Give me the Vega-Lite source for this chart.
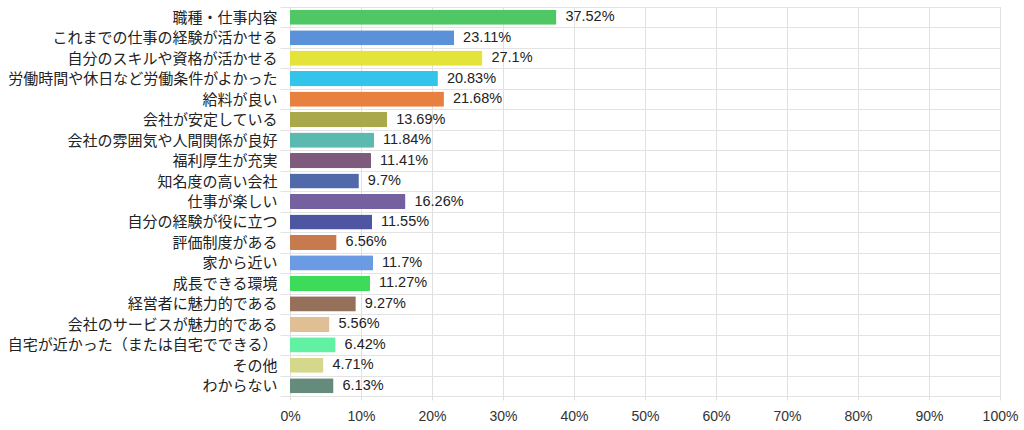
{
  "$schema": "https://vega.github.io/schema/vega-lite/v6.json",
  "width": 710,
  "height": 389,
  "autosize": {"type": "none"},
  "padding": {"left": 290, "top": 7, "right": 24, "bottom": 34},
  "background": "white",
  "config": {
    "font": "Liberation Sans, Noto Sans CJK JP",
    "view": {"stroke": "#d6d6d6", "strokeWidth": 1}
  },
  "data": {
    "values": [
      {"item": "職種・仕事内容", "pct": 37.52, "color": "#4fc764"},
      {"item": "これまでの仕事の経験が活かせる", "pct": 23.11, "color": "#5b91d9"},
      {"item": "自分のスキルや資格が活かせる", "pct": 27.1, "color": "#e3e33a"},
      {"item": "労働時間や休日など労働条件がよかった", "pct": 20.83, "color": "#33c4ec"},
      {"item": "給料が良い", "pct": 21.68, "color": "#e8803f"},
      {"item": "会社が安定している", "pct": 13.69, "color": "#a9a94b"},
      {"item": "会社の雰囲気や人間関係が良好", "pct": 11.84, "color": "#5bbab0"},
      {"item": "福利厚生が充実", "pct": 11.41, "color": "#7e5b7c"},
      {"item": "知名度の高い会社", "pct": 9.7, "color": "#5069aa"},
      {"item": "仕事が楽しい", "pct": 16.26, "color": "#7661a0"},
      {"item": "自分の経験が役に立つ", "pct": 11.55, "color": "#4e56a2"},
      {"item": "評価制度がある", "pct": 6.56, "color": "#c67a4e"},
      {"item": "家から近い", "pct": 11.7, "color": "#6b9be2"},
      {"item": "成長できる環境", "pct": 11.27, "color": "#3cdc5a"},
      {"item": "経営者に魅力的である", "pct": 9.27, "color": "#95705b"},
      {"item": "会社のサービスが魅力的である", "pct": 5.56, "color": "#e0bf95"},
      {"item": "自宅が近かった（または自宅でできる）", "pct": 6.42, "color": "#62f1a2"},
      {"item": "その他", "pct": 4.71, "color": "#d5d88a"},
      {"item": "わからない", "pct": 6.13, "color": "#658b7c"}
    ]
  },
  "transform": [
    {"calculate": "datum.pct + '%'", "as": "label"}
  ],
  "encoding": {
    "y": {
      "field": "item",
      "type": "nominal",
      "sort": null,
      "title": null,
      "scale": {"paddingInner": 0, "paddingOuter": 0},
      "axis": {
        "tickBand": "extent",
        "domain": false,
        "grid": true,
        "gridColor": "#e3e3e3",
        "tickColor": "#e3e3e3",
        "tickSize": 10,
        "labelPadding": 3,
        "labelFontSize": 15,
        "labelColor": "#222222",
        "labelLimit": 400
      }
    },
    "x": {
      "field": "pct",
      "type": "quantitative",
      "title": null,
      "scale": {"domain": [0, 100]},
      "axis": {
        "values": [0, 10, 20, 30, 40, 50, 60, 70, 80, 90, 100],
        "labelExpr": "datum.value + '%'",
        "labelFlush": false,
        "domain": false,
        "gridColor": "#e0e0e0",
        "tickColor": "#e0e0e0",
        "tickSize": 4,
        "labelPadding": 9,
        "labelFontSize": 14,
        "labelColor": "#333333"
      }
    }
  },
  "layer": [
    {
      "mark": {"type": "bar", "height": {"band": 0.74}, "cornerRadius": 1},
      "encoding": {
        "color": {"field": "color", "type": "nominal", "scale": null, "legend": null}
      }
    },
    {
      "mark": {"type": "text", "align": "left", "baseline": "middle", "dx": 9, "fontSize": 14.5, "color": "#222222"},
      "encoding": {
        "text": {"field": "label"}
      }
    }
  ]
}
